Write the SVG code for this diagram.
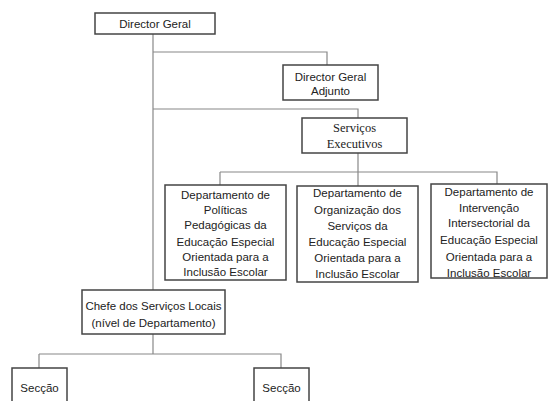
<svg xmlns="http://www.w3.org/2000/svg" width="551" height="401" viewBox="0 0 551 401">
<style>
.box{fill:#fff;stroke:#444;stroke-width:1.5}
.ln{fill:none;stroke:#888;stroke-width:1.2}
.t{font-family:"Liberation Sans","Open Sans",sans-serif;font-size:11.5px;fill:#222;text-anchor:middle}
.s{font-family:"Liberation Serif",serif;font-size:12.5px;fill:#222;text-anchor:middle}
</style>
<rect width="551" height="401" fill="#fff"/>
<g id="connectors">
<path class="ln" d="M153,34 V290"/>
<path class="ln" d="M153,52 H327 V65"/>
<path class="ln" d="M153,109 H358 V118"/>
<path class="ln" d="M358,153 V172"/>
<path class="ln" d="M220,172 H497 V184"/>
<path class="ln" d="M220,172 V185"/>
<path class="ln" d="M358,172 V186"/>
<path class="ln" d="M153,334 V354"/>
<path class="ln" d="M39,354 H281 V368"/>
<path class="ln" d="M39,354 V368"/>
</g>
<g id="director-geral">
<rect class="box" x="95" y="13" width="120" height="21"/>
<text class="t" x="155" y="28">Director Geral</text>
</g>
<g id="director-geral-adjunto">
<rect class="box" x="283" y="65" width="95" height="35"/>
<text class="t" x="330.5" y="81">Director Geral</text>
<text class="t" x="330.5" y="95">Adjunto</text>
</g>
<g id="servicos-executivos">
<rect class="box" x="302" y="118" width="105" height="35"/>
<text class="s" x="354.5" y="132">Serviços</text>
<text class="s" x="354.5" y="148">Executivos</text>
</g>
<g id="dep-politicas">
<rect class="box" x="165" y="185" width="121" height="95"/>
<text class="t" x="225.5" y="199">Departamento de</text>
<text class="t" x="225.5" y="214">Políticas</text>
<text class="t" x="225.5" y="229">Pedagógicas da</text>
<text class="t" x="225.5" y="246">Educação Especial</text>
<text class="t" x="225.5" y="261">Orientada para a</text>
<text class="t" x="225.5" y="276">Inclusão Escolar</text>
</g>
<g id="dep-organizacao">
<rect class="box" x="297" y="186" width="121" height="96"/>
<text class="t" x="357.5" y="197">Departamento de</text>
<text class="t" x="357.5" y="214">Organização dos</text>
<text class="t" x="357.5" y="230">Serviços da</text>
<text class="t" x="357.5" y="246">Educação Especial</text>
<text class="t" x="357.5" y="262">Orientada para a</text>
<text class="t" x="357.5" y="278">Inclusão Escolar</text>
</g>
<g id="dep-intervencao">
<rect class="box" x="431" y="184" width="116" height="94"/>
<text class="t" x="489" y="196">Departamento de</text>
<text class="t" x="489" y="212">Intervenção</text>
<text class="t" x="489" y="227">Intersectorial da</text>
<text class="t" x="489" y="244">Educação Especial</text>
<text class="t" x="489" y="261">Orientada para a</text>
<text class="t" x="489" y="277">Inclusão Escolar</text>
</g>
<g id="chefe-servicos-locais">
<rect class="box" x="82" y="290" width="143" height="44"/>
<text class="t" x="153.5" y="310">Chefe dos Serviços Locais</text>
<text class="t" x="153.5" y="327">(nível de Departamento)</text>
</g>
<g id="seccao-1">
<rect class="box" x="12" y="368" width="55" height="40"/>
<text class="t" x="39.5" y="392">Secção</text>
</g>
<g id="seccao-2">
<rect class="box" x="254" y="368" width="55" height="40"/>
<text class="t" x="281.5" y="392">Secção</text>
</g>
</svg>
